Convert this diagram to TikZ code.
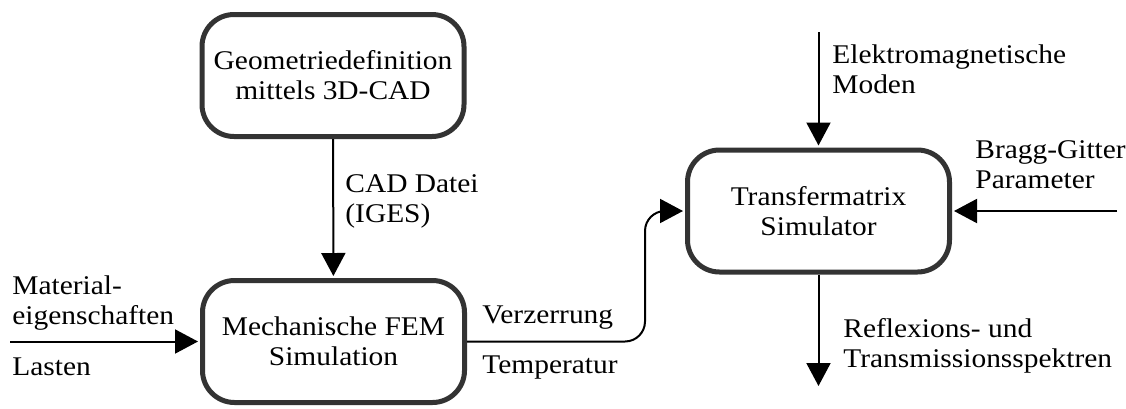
\documentclass[tikz,border=0pt]{standalone}
\usepackage{fontspec}
\setmainfont{Liberation Serif}[FakeStretch=1.09]
\usetikzlibrary{arrows.meta}
\definecolor{boxline}{HTML}{333333}
\tikzset{
  procbox/.style={draw=boxline, line width=2.5pt, rounded corners=16pt,
    minimum width=131pt, minimum height=61pt, align=center, inner sep=0pt,
    font=\fontsize{13.5}{15}\selectfont},
  flow/.style={line width=1pt, -{Triangle[length=11.5pt,width=12pt]}, shorten >=1pt},
  lbl/.style={anchor=base west, align=left, inner sep=0pt,
    font=\fontsize{13.5}{15}\selectfont}
}
\begin{document}
\begin{tikzpicture}[x=0.5pt,y=-0.5pt]
\useasboundingbox (0,0) rectangle (1126,408);
\node[procbox] (b1) at (333,75.5) {Geometriedefinition\\mittels 3D-CAD};
\node[procbox] (b2) at (333.5,341.5) {Mechanische FEM\\Simulation};
\node[procbox] (b3) at (818.5,211) {Transfermatrix\\Simulator};
\coordinate (inL) at (10,341.5);
\coordinate (inE) at (818.5,32);
\coordinate (inB) at (1117,211);
\coordinate (outR) at (818.5,388);
\coordinate (bend) at (645,341.5);
\draw[flow] (b1) -- (b2);
\draw[flow] (inL) -- (b2);
\draw[flow, rounded corners=10pt] (b2.east) -- (bend) |- (b3.west);
\draw[flow] (inE) -- (b3);
\draw[flow] (inB) -- (b3);
\draw[flow] (b3) -- (outR);
\node[lbl] (lcad) at (345,222) {CAD Datei\\(IGES)};
\node[lbl] (lmat) at (12,324) {Material-\\eigenschaften};
\node[lbl] (llast) at (12,375) {Lasten};
\node[lbl] (lverz) at (482,323) {Verzerrung};
\node[lbl] (ltemp) at (482,373) {Temperatur};
\node[lbl] (lem) at (832,93) {Elektromagnetische\\Moden};
\node[lbl] (lbragg) at (975,188) {Bragg-Gitter\\Parameter};
\node[lbl] (lrefl) at (843,367) {Reflexions- und\\Transmissionsspektren};
\end{tikzpicture}
\end{document}
